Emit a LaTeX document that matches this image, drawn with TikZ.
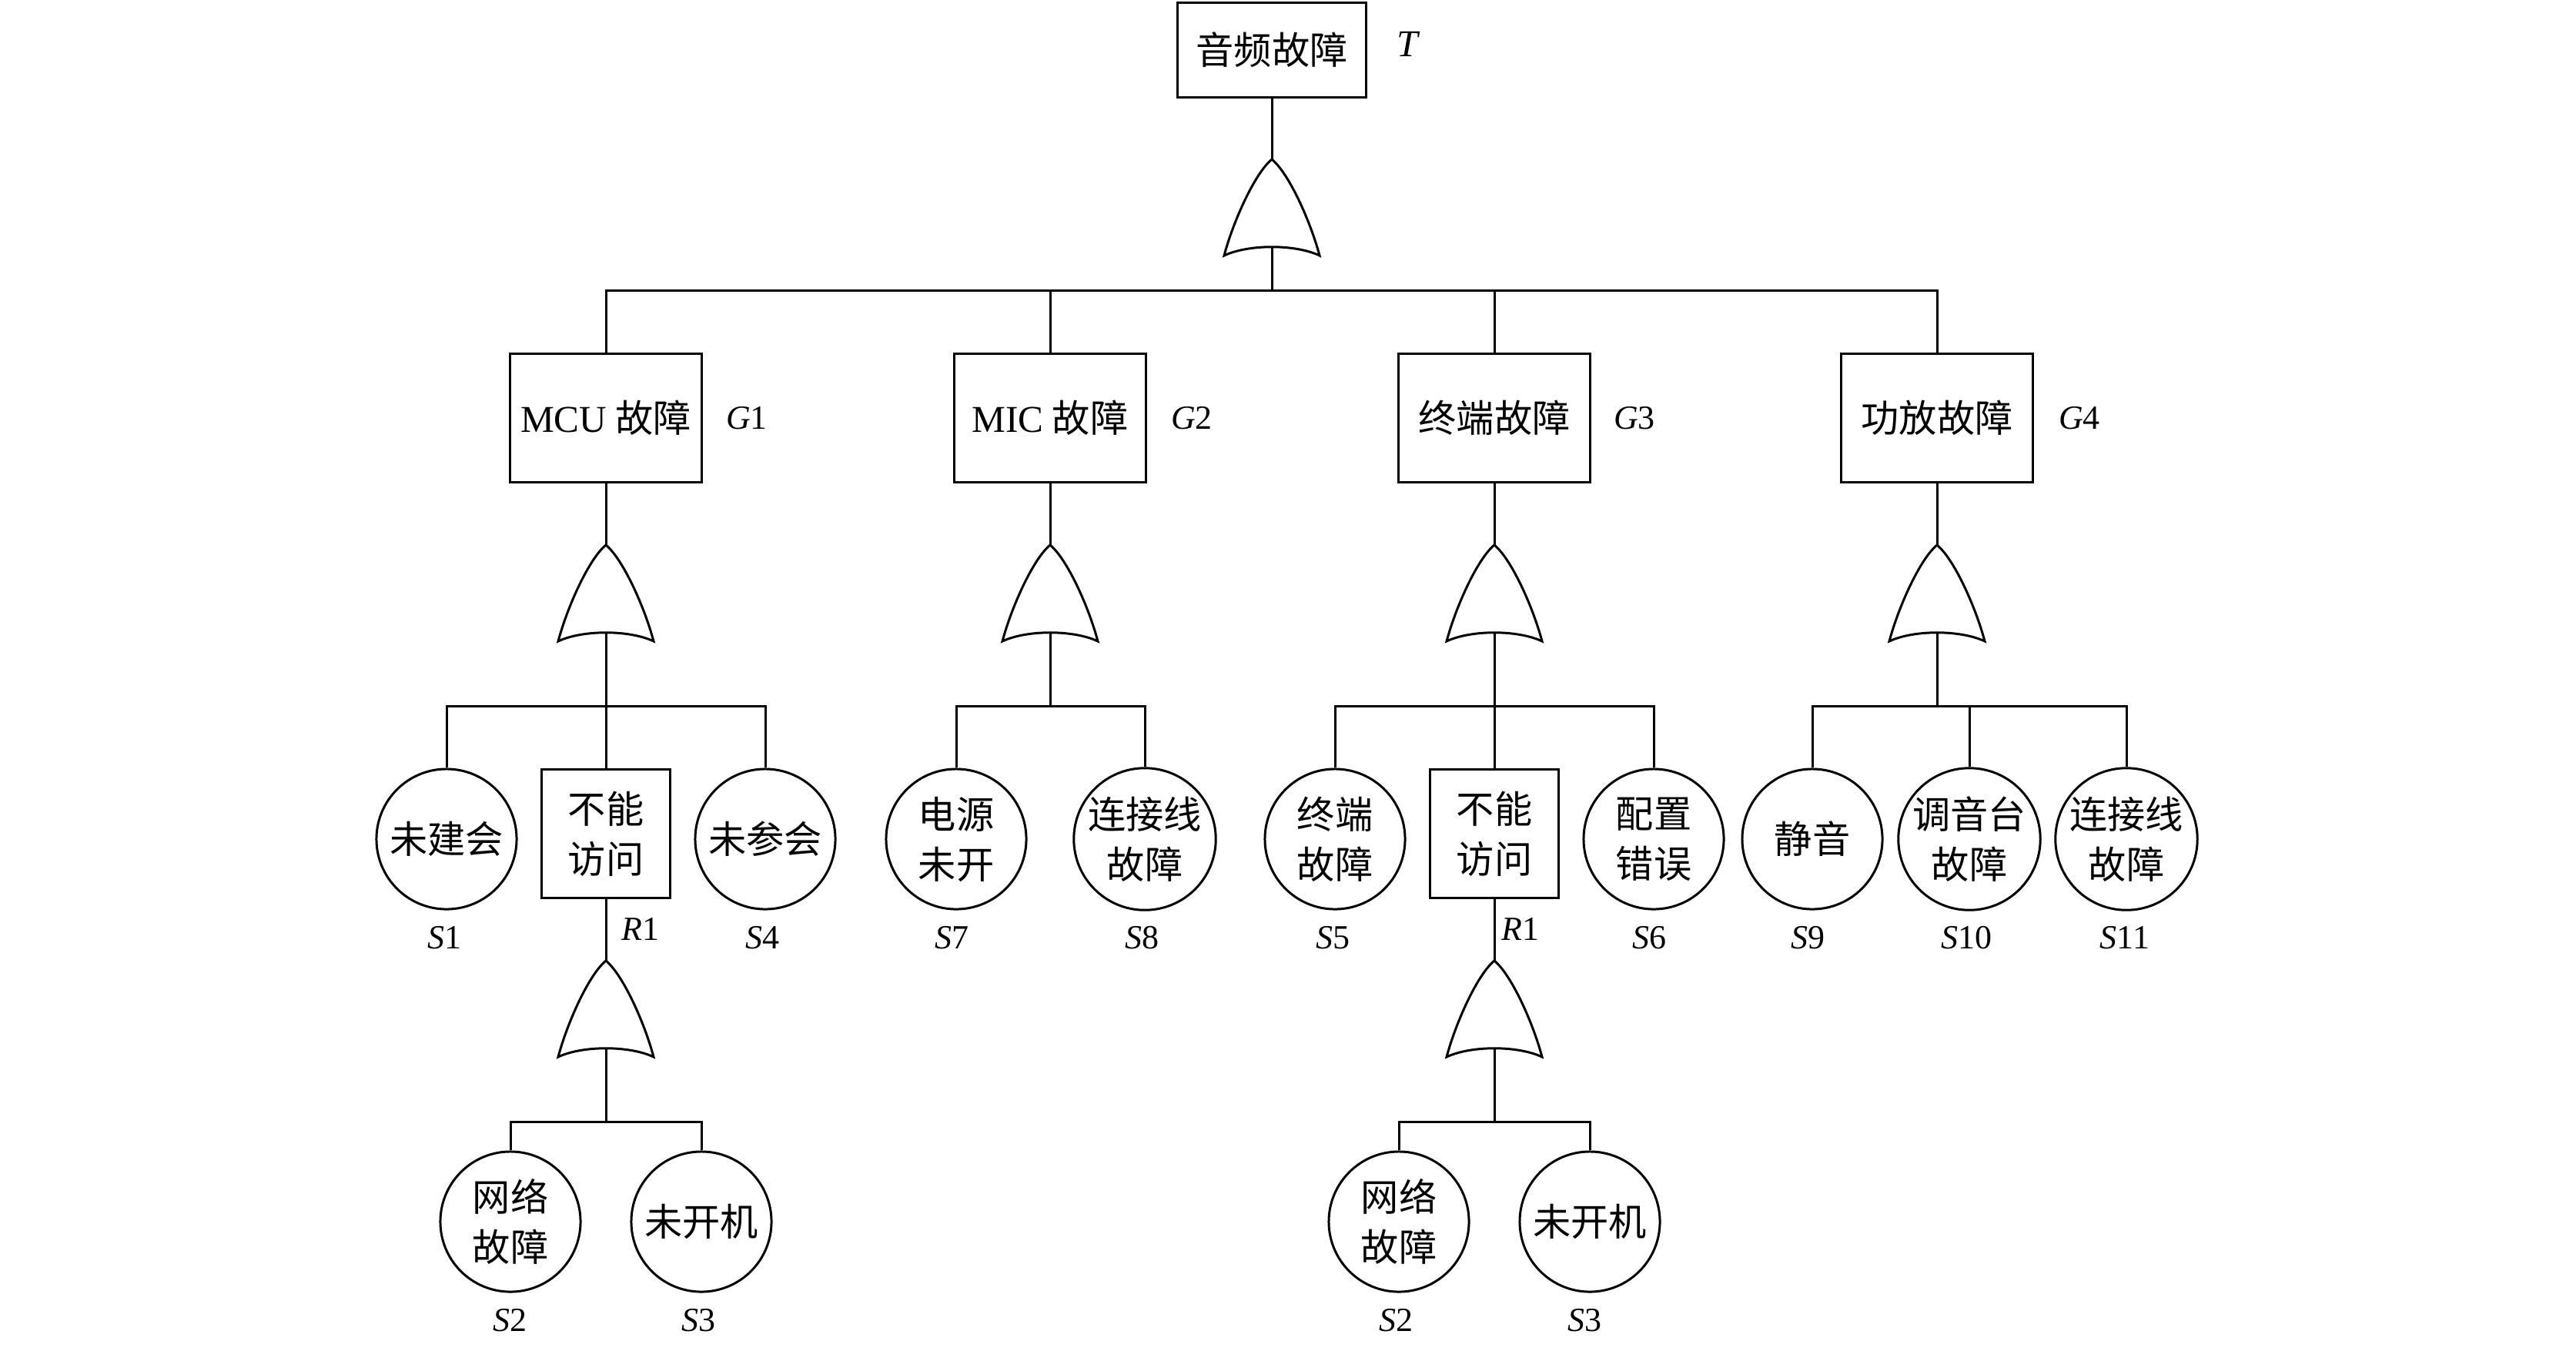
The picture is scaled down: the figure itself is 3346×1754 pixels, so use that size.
\documentclass[tikz,border=0pt]{standalone}
\usepackage{fontspec}
\setmainfont{Liberation Serif}
\newfontfamily\cjk{Noto Sans CJK SC}

\tikzset{
    evt/.style={draw, rectangle, minimum width=2.48cm, minimum height=1.67cm,
        inner sep=0pt, align=center, font=\cjk\fontsize{14}{18.5}\selectfont},
    basic/.style={draw, circle, minimum size=1.82cm, inner sep=0pt,
        align=center, font=\cjk\fontsize{14}{18.5}\selectfont},
    lbl/.style={inner sep=0pt, font=\fontsize{12.5}{15}\selectfont},
    orgate/.pic={
        \draw (0,0) .. controls (-22,18) and (-50,80) .. (-62,125)
            .. controls (-30,110) and (30,110) .. (62,125)
            .. controls (50,80) and (22,18) .. cycle;
        \coordinate (-top) at (0,0);
        \coordinate (-bot) at (0,114);
    }
}

\begin{document}
\begin{tikzpicture}[x=0.01cm, y=-0.01cm, line width=0.85pt]
    \useasboundingbox (0,0) rectangle (3346,1754);

    \node[evt, minimum width=2.45cm, minimum height=1.23cm] (T) at (1652,65) {音频故障};
    \node[lbl, font=\fontsize{14}{16}\selectfont] (tT) at (1830,57) {\textit{T}};
    \pic (g0) at (1652,207) {orgate};
    \coordinate (b0) at (1652,377);
    \draw (T) -- (g0-top);
    \draw (g0-bot) -- (b0);

    \node[evt] (G1) at (787,543) {{\rmfamily MCU} 故障};
    \node[evt] (G2) at (1364,543) {{\rmfamily MIC} 故障};
    \node[evt] (G3) at (1941,543) {终端故障};
    \node[evt] (G4) at (2516,543) {功放故障};
    \node[lbl] (tG1) at (970,543) {\textit{G}1};
    \node[lbl] (tG2) at (1548,543) {\textit{G}2};
    \node[lbl] (tG3) at (2123,543) {\textit{G}3};
    \node[lbl] (tG4) at (2701,543) {\textit{G}4};
    \foreach \c in {G1,G2,G3,G4}
        \draw (b0) -| (\c.north);

    \pic (g1) at (787,708) {orgate};
    \pic (g2) at (1364,708) {orgate};
    \pic (g3) at (1941,708) {orgate};
    \pic (g4) at (2516,708) {orgate};
    \coordinate (b1) at (787,917);
    \coordinate (b2) at (1364,917);
    \coordinate (b3) at (1941,917);
    \coordinate (b4) at (2516,917);
    \foreach \g in {1,2,3,4} {
        \draw (G\g) -- (g\g-top);
        \draw (g\g-bot) -- (b\g);
    }

    \node[basic] (S1) at (580,1090) {未建会};
    \node[evt, minimum width=1.66cm] (R1a) at (787,1083) {不能\\访问};
    \node[basic] (S4) at (994,1090) {未参会};
    \node[basic] (S7) at (1242,1090) {电源\\未开};
    \node[basic] (S8) at (1487,1090) {连接线\\故障};
    \node[basic] (S5) at (1734,1090) {终端\\故障};
    \node[evt, minimum width=1.66cm] (R1b) at (1941,1083) {不能\\访问};
    \node[basic] (S6) at (2148,1090) {配置\\错误};
    \node[basic] (S9) at (2354,1090) {静音};
    \node[basic] (S10) at (2558,1090) {调音台\\故障};
    \node[basic] (S11) at (2762,1090) {连接线\\故障};
    \foreach \c in {S1,R1a,S4}
        \draw (b1) -| (\c.north);
    \foreach \c in {S7,S8}
        \draw (b2) -| (\c.north);
    \foreach \c in {S5,R1b,S6}
        \draw (b3) -| (\c.north);
    \foreach \c in {S9,S10,S11}
        \draw (b4) -| (\c.north);

    \node[lbl] (tS1) at (577,1218) {\textit{S}1};
    \node[lbl] (tR1a) at (832,1207) {\textit{R}1};
    \node[lbl] (tS4) at (990,1218) {\textit{S}4};
    \node[lbl] (tS7) at (1236,1218) {\textit{S}7};
    \node[lbl] (tS8) at (1483,1218) {\textit{S}8};
    \node[lbl] (tS5) at (1731,1218) {\textit{S}5};
    \node[lbl] (tR1b) at (1975,1207) {\textit{R}1};
    \node[lbl] (tS6) at (2142,1218) {\textit{S}6};
    \node[lbl] (tS9) at (2348,1218) {\textit{S}9};
    \node[lbl] (tS10) at (2554,1218) {\textit{S}10};
    \node[lbl] (tS11) at (2760,1218) {\textit{S}11};

    \pic (g5) at (787,1248) {orgate};
    \pic (g6) at (1941,1248) {orgate};
    \coordinate (b5) at (787,1457);
    \coordinate (b6) at (1941,1457);
    \draw (R1a) -- (g5-top);
    \draw (g5-bot) -- (b5);
    \draw (R1b) -- (g6-top);
    \draw (g6-bot) -- (b6);

    \node[basic] (S2a) at (663,1587) {网络\\故障};
    \node[basic] (S3a) at (911,1587) {未开机};
    \node[basic] (S2b) at (1817,1587) {网络\\故障};
    \node[basic] (S3b) at (2065,1587) {未开机};
    \foreach \c in {S2a,S3a}
        \draw (b5) -| (\c.north);
    \foreach \c in {S2b,S3b}
        \draw (b6) -| (\c.north);

    \node[lbl] (tS2a) at (662,1715) {\textit{S}2};
    \node[lbl] (tS3a) at (907,1715) {\textit{S}3};
    \node[lbl] (tS2b) at (1813,1715) {\textit{S}2};
    \node[lbl] (tS3b) at (2058,1715) {\textit{S}3};
\end{tikzpicture}
\end{document}
